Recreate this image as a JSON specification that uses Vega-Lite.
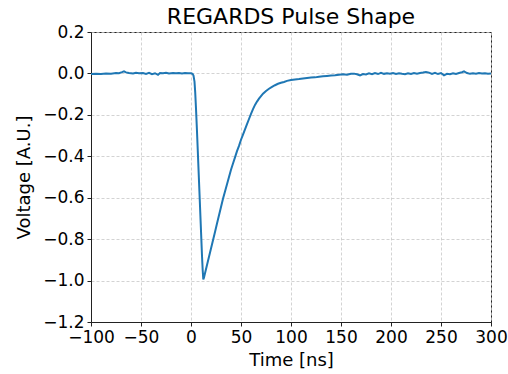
{
  "$schema": "https://vega.github.io/schema/vega-lite/v6.json",
  "width": 400,
  "height": 290,
  "autosize": "none",
  "padding": {"left": 91, "top": 32, "right": 17, "bottom": 52},
  "background": "white",
  "title": {"text": "REGARDS Pulse Shape", "font": "DejaVu Sans", "fontSize": 22, "fontWeight": "normal", "color": "#000", "offset": -6, "anchor": "middle"},
  "config": {
    "view": {"stroke": "#222", "strokeWidth": 1},
    "axis": {
      "labelFont": "DejaVu Sans", "labelFontSize": 17, "labelColor": "#000",
      "titleFont": "DejaVu Sans", "titleFontSize": 18, "titleFontWeight": "normal", "titleColor": "#000",
      "domainColor": "#222", "tickColor": "#222", "tickSize": 4,
      "gridColor": "#c8c8c8", "gridDash": [3, 2], "gridWidth": 0.8
    }
  },
  "data": {"values": [
    {"t": -100, "v": -0.003}, {"t": -95, "v": -0.002}, {"t": -90, "v": -0.003}, {"t": -85, "v": 0.0},
    {"t": -80, "v": -0.001}, {"t": -75, "v": 0.002}, {"t": -72, "v": 0.001}, {"t": -69, "v": 0.006},
    {"t": -67, "v": 0.010}, {"t": -65, "v": 0.005}, {"t": -62, "v": 0.002}, {"t": -58, "v": 0.0},
    {"t": -55, "v": 0.003}, {"t": -52, "v": 0.001}, {"t": -48, "v": 0.002}, {"t": -45, "v": -0.002},
    {"t": -42, "v": 0.003}, {"t": -39, "v": -0.004}, {"t": -36, "v": 0.001}, {"t": -33, "v": -0.007},
    {"t": -31, "v": 0.002}, {"t": -28, "v": 0.001}, {"t": -25, "v": 0.003}, {"t": -22, "v": 0.0},
    {"t": -18, "v": 0.002}, {"t": -15, "v": 0.001}, {"t": -12, "v": 0.002}, {"t": -9, "v": 0.0},
    {"t": -6, "v": 0.002}, {"t": -3, "v": 0.001}, {"t": 0, "v": 0.001}, {"t": 1.5, "v": -0.002},
    {"t": 2.5, "v": -0.01}, {"t": 3.5, "v": -0.04}, {"t": 4.2, "v": -0.09}, {"t": 5, "v": -0.17},
    {"t": 6, "v": -0.28}, {"t": 7, "v": -0.40}, {"t": 8, "v": -0.52}, {"t": 9, "v": -0.64},
    {"t": 10, "v": -0.76}, {"t": 11, "v": -0.88}, {"t": 11.7, "v": -0.95}, {"t": 12.3, "v": -0.995},
    {"t": 13, "v": -0.985}, {"t": 14, "v": -0.965}, {"t": 16, "v": -0.925}, {"t": 18, "v": -0.885},
    {"t": 20, "v": -0.845}, {"t": 22, "v": -0.805}, {"t": 24, "v": -0.765}, {"t": 26, "v": -0.725},
    {"t": 28, "v": -0.685}, {"t": 30, "v": -0.645}, {"t": 32, "v": -0.605}, {"t": 34, "v": -0.57},
    {"t": 36, "v": -0.535}, {"t": 38, "v": -0.50}, {"t": 40, "v": -0.465}, {"t": 42, "v": -0.435},
    {"t": 44, "v": -0.405}, {"t": 46, "v": -0.375}, {"t": 48, "v": -0.35}, {"t": 50, "v": -0.32},
    {"t": 52, "v": -0.295}, {"t": 54, "v": -0.27}, {"t": 56, "v": -0.245}, {"t": 58, "v": -0.22},
    {"t": 60, "v": -0.195}, {"t": 62, "v": -0.172}, {"t": 64, "v": -0.152}, {"t": 66, "v": -0.136},
    {"t": 68, "v": -0.122}, {"t": 70, "v": -0.110}, {"t": 72, "v": -0.098}, {"t": 75, "v": -0.085},
    {"t": 78, "v": -0.074}, {"t": 81, "v": -0.065}, {"t": 84, "v": -0.057}, {"t": 87, "v": -0.050},
    {"t": 90, "v": -0.045}, {"t": 93, "v": -0.041}, {"t": 96, "v": -0.036}, {"t": 100, "v": -0.032},
    {"t": 104, "v": -0.029}, {"t": 108, "v": -0.027}, {"t": 112, "v": -0.024}, {"t": 116, "v": -0.022},
    {"t": 120, "v": -0.020}, {"t": 124, "v": -0.019}, {"t": 128, "v": -0.016}, {"t": 132, "v": -0.014},
    {"t": 136, "v": -0.012}, {"t": 140, "v": -0.010}, {"t": 144, "v": -0.009}, {"t": 148, "v": -0.006},
    {"t": 152, "v": -0.004}, {"t": 156, "v": -0.006}, {"t": 160, "v": -0.002}, {"t": 163, "v": -0.001},
    {"t": 166, "v": -0.004}, {"t": 169, "v": -0.010}, {"t": 172, "v": -0.003}, {"t": 175, "v": -0.005},
    {"t": 178, "v": 0.001}, {"t": 181, "v": -0.004}, {"t": 184, "v": 0.002}, {"t": 187, "v": -0.003},
    {"t": 190, "v": 0.003}, {"t": 193, "v": -0.002}, {"t": 196, "v": 0.001}, {"t": 199, "v": -0.001},
    {"t": 202, "v": 0.002}, {"t": 205, "v": -0.003}, {"t": 208, "v": 0.001}, {"t": 211, "v": -0.002},
    {"t": 214, "v": -0.004}, {"t": 217, "v": 0.001}, {"t": 220, "v": -0.003}, {"t": 223, "v": 0.002},
    {"t": 226, "v": -0.001}, {"t": 229, "v": 0.002}, {"t": 232, "v": 0.004}, {"t": 235, "v": 0.007},
    {"t": 238, "v": 0.004}, {"t": 241, "v": -0.002}, {"t": 244, "v": 0.003}, {"t": 247, "v": -0.003},
    {"t": 250, "v": 0.002}, {"t": 253, "v": -0.009}, {"t": 256, "v": -0.002}, {"t": 259, "v": -0.004},
    {"t": 262, "v": 0.001}, {"t": 265, "v": -0.003}, {"t": 268, "v": 0.002}, {"t": 271, "v": 0.006},
    {"t": 273, "v": 0.010}, {"t": 276, "v": 0.002}, {"t": 279, "v": -0.002}, {"t": 282, "v": 0.001},
    {"t": 285, "v": -0.001}, {"t": 288, "v": 0.002}, {"t": 291, "v": 0.0}, {"t": 294, "v": 0.001},
    {"t": 297, "v": -0.001}, {"t": 300, "v": 0.0}
  ]},
  "mark": {"type": "line", "color": "#1f77b4", "strokeWidth": 2, "clip": true},
  "encoding": {
    "x": {"field": "t", "type": "quantitative",
      "scale": {"domain": [-100, 300], "nice": false, "zero": false},
      "axis": {"title": "Time [ns]", "values": [-100, -50, 0, 50, 100, 150, 200, 250, 300],
        "labelExpr": "replace(format(datum.value, 'd'), '-', '−')", "labelPadding": 3, "titlePadding": 6, "labelFlush": false}},
    "y": {"field": "v", "type": "quantitative",
      "scale": {"domain": [-1.2, 0.2], "nice": false, "zero": false},
      "axis": {"title": "Voltage [A.U.]", "values": [-1.2, -1.0, -0.8, -0.6, -0.4, -0.2, 0.0, 0.2],
        "labelExpr": "replace(format(datum.value, '.1f'), '-', '−')", "labelPadding": 3, "titlePadding": 9, "labelFlush": false}}
  }
}
